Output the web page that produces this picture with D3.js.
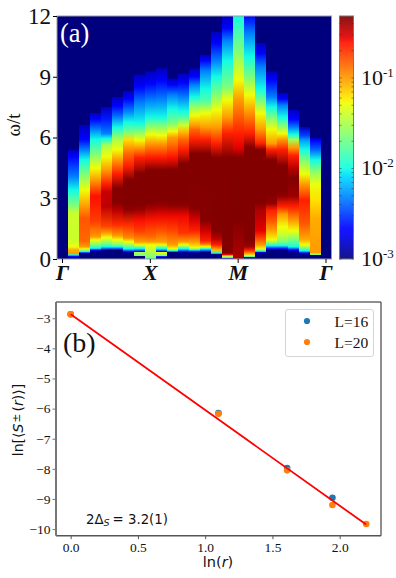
<!DOCTYPE html>
<html>
<head>
<meta charset="utf-8">
<script src="https://cdn.jsdelivr.net/npm/d3@7"></script>
<style>
body { margin: 0; background: #fff; }
text { fill: #111; }
</style>
</head>
<body>
<svg id="fig" width="396" height="578"></svg>
<script>
// panel (a): each momentum column is a list of [omega, log10 S]
const column0 = [[0, -3]];
const column1 = [[.08,-3],[.12,-2.66],[.2,-2],[.28,-1],[.45,-1.05],[.6,-1.3],[.94,-1.4],[2.25,-1.4],[2.67,-1.66],[3.4,-2],[4.07,-2.33],[5.05,-2.66],[5.38,-2.85],[5.4,-3]];
const column2 = [[.27,-3],[.3,-2.66],[.36,-2],[.5,-1.28],[.6,-1],[.9,-.85],[2,-.8],[2.6,-1],[3.4,-1.28],[4.2,-1.66],[4.9,-2],[5.4,-2.33],[5.9,-2.66],[6.6,-2.85],[6.62,-3]];
const column3 = [[.36,-3],[.44,-2.66],[.53,-2],[.7,-1.66],[.94,-1.28],[1.1,-1],[1.9,-.72],[3.1,-.6],[3.9,-1],[4.5,-1.28],[5.2,-1.66],[5.9,-2],[6.4,-2.33],[6.9,-2.66],[7.2,-2.85],[7.22,-3]];
const column4 = [[.42,-3],[.46,-2.66],[.6,-2],[.77,-1.66],[1.05,-1.28],[1.3,-1],[1.6,-.75],[2.6,-.46],[3.3,-.48],[3.7,-.64],[4.4,-1],[5.05,-1.28],[5.6,-1.5],[5.95,-2],[6.2,-2.33],[6.9,-2.6],[7.5,-2.85],[7.52,-3]];
const column5 = [[.42,-3],[.46,-2.66],[.6,-2],[.7,-1.66],[.95,-1.28],[1.15,-1],[1.7,-.68],[2.4,-.45],[2.8,-.33],[3.5,-.33],[4.2,-.64],[4.9,-1],[5.4,-1.28],[5.9,-1.5],[6.5,-2],[7.1,-2.4],[7.55,-2.66],[8,-2.85],[8.02,-3]];
const column6 = [[.3,-3],[.36,-2.66],[.5,-2],[.65,-1.66],[.85,-1.28],[1.05,-.95],[1.7,-.68],[2.4,-.36],[2.7,-.32],[3.9,-.32],[4.6,-.64],[5.2,-.85],[5.9,-1.2],[6.25,-1.66],[6.75,-2],[7.3,-2.33],[7.9,-2.66],[8.3,-2.85],[8.32,-3]];
const column7 = [[.15,-3],[.17,-1.66],[.33,-1.5],[.37,-2.66],[.52,-2],[.7,-1.28],[.85,-1],[1.4,-.72],[1.9,-.6],[2.4,-.38],[2.7,-.32],[4.2,-.32],[5,-.64],[5.5,-1],[5.88,-1.28],[6.3,-1.66],[6.7,-2],[7.7,-2.33],[8.5,-2.66],[9.1,-2.85],[9.12,-3]];
const column8 = [[0,-2],[.05,-1.66],[.5,-1.4],[.7,-1.28],[.85,-1],[1.1,-.85],[1.9,-.62],[2.5,-.4],[2.8,-.32],[4.4,-.32],[5,-.62],[5.7,-1],[6.15,-1.28],[6.6,-1.66],[7,-2],[7.85,-2.33],[8.65,-2.66],[9.25,-2.85],[9.27,-3]];
const column9 = [[.1,-3],[.12,-2.6],[.17,-1.66],[.33,-1.28],[.37,-2.66],[.5,-2],[.7,-1.28],[.85,-1],[1.5,-.75],[2.1,-.58],[2.6,-.38],[2.9,-.32],[4.4,-.32],[5,-.62],[5.7,-1],[6.1,-1.28],[6.6,-1.66],[7,-2],[7.9,-2.33],[8.8,-2.66],[9.4,-2.85],[9.42,-3]];
const column10 = [[.33,-3],[.4,-2],[.5,-1.28],[.7,-1],[1.5,-.72],[2.1,-.58],[2.6,-.36],[2.9,-.32],[4.4,-.32],[5,-.6],[5.6,-.85],[6,-1],[6.3,-1.28],[6.7,-1.66],[7.4,-2],[8.1,-2.33],[8.6,-2.66],[8.9,-2.85],[8.92,-3]];
const column11 = [[.3,-3],[.36,-2.66],[.5,-2],[.7,-1.28],[.85,-1],[1.3,-.7],[2.1,-.58],[2.6,-.36],[2.9,-.32],[4.7,-.32],[5.4,-.64],[5.9,-.85],[6.3,-1.1],[6.6,-1.4],[7,-1.8],[7.3,-2],[8,-2.33],[8.7,-2.66],[9.15,-2.85],[9.17,-3]];
const column12 = [[.3,-3],[.36,-2.66],[.45,-2],[.55,-1.28],[.85,-1],[1.4,-.64],[2,-.5],[2.5,-.33],[5.2,-.32],[5.9,-.64],[6.4,-.85],[6.6,-1],[7.1,-1.28],[7.6,-1.66],[8,-2],[8.6,-2.33],[9,-2.66],[9.4,-2.85],[9.42,-3]];
const column13 = [[.33,-3],[.36,-2.66],[.5,-2],[.6,-1.28],[.75,-.85],[.9,-.64],[1.4,-.5],[1.9,-.33],[5.2,-.32],[5.9,-.64],[6.5,-1],[7.2,-1.28],[7.8,-1.8],[8.4,-2],[9.3,-2.33],[9.8,-2.66],[10.07,-2.85],[10.09,-3]];
const column14 = [[.22,-3],[.25,-2.66],[.28,-2],[.44,-1.1],[.7,-.64],[1,-.45],[1.4,-.32],[5,-.32],[5.7,-.64],[6.5,-1],[7.35,-1.28],[8.15,-1.66],[9,-2],[9.8,-2.33],[10.65,-2.66],[11.2,-2.85],[11.22,-3]];
const column15 = [[0,-3],[.03,-2.66],[.06,-2],[.1,-1.66],[.15,-1.28],[.2,-.6],[.3,-.32],[5,-.32],[6.2,-.64],[7,-1],[7.85,-1.28],[8.5,-1.66],[9.8,-2],[10.8,-2.33],[11.4,-2.66],[12,-2.85]];
const column16 = [[0,-.4],[.5,-.4],[2,-.3],[5,-.32],[5.5,-.55],[6.2,-.64],[7.85,-1],[8.85,-1.28],[10.3,-1.66],[12,-2]];
const column17 = [[.04,-3],[.08,-2.66],[.1,-2],[.16,-1.28],[.28,-1],[.4,-.7],[.6,-.4],[.9,-.32],[5.5,-.32],[6.2,-.64],[7.3,-1],[8.1,-1.28],[9,-1.66],[10,-2],[11.15,-2.33],[12,-2.66]];
const column18 = [[.3,-3],[.33,-2.66],[.38,-2],[.5,-1.28],[.7,-1],[1.1,-.7],[1.4,-.55],[2.4,-.42],[2.8,-.32],[5.4,-.32],[5.7,-.64],[6.4,-1],[7.2,-1.28],[7.8,-1.66],[8.4,-2],[9.5,-2.33],[10.15,-2.66],[10.66,-2.85],[10.68,-3]];
const column19 = [[.42,-3],[.5,-2.66],[.66,-2],[.94,-1.28],[1.43,-1],[1.9,-.8],[2.4,-.64],[2.75,-.36],[3.2,-.32],[4.9,-.32],[5.4,-.64],[5.7,-1],[6.4,-1.28],[7,-1.66],[7.5,-2],[8,-2.33],[8.85,-2.66],[9.25,-2.85],[9.27,-3]];
const column20 = [[.42,-3],[.5,-2.66],[.66,-2],[.85,-1.66],[1.2,-1.4],[1.6,-1.28],[2.2,-1],[2.6,-.64],[3.1,-.36],[3.4,-.32],[4.6,-.32],[5.4,-.64],[5.9,-1],[6.2,-1.28],[6.6,-1.66],[7,-2],[7.6,-2.33],[7.9,-2.66],[8.2,-2.85],[8.22,-3]];
const column21 = [[.3,-3],[.45,-2.66],[.6,-2],[.95,-1.66],[1.4,-1.28],[1.9,-1],[2.6,-.64],[3.1,-.38],[4,-.32],[4.5,-.45],[5.1,-.64],[5.5,-1],[5.9,-1.55],[6.15,-2],[6.5,-2.33],[6.9,-2.66],[7.35,-2.85],[7.37,-3]];
const column22 = [[.2,-3],[.3,-2.66],[.4,-2],[.7,-1.28],[.95,-1.05],[1.76,-.8],[2.9,-.64],[3.7,-1],[4.2,-1.28],[4.9,-1.66],[5.4,-2],[5.88,-2.25],[6.1,-2.5],[6.5,-2.85],[6.52,-3]];
const column23 = [[.18,-3],[.2,-2],[.24,-1.28],[.3,-1],[2,-1.05],[2.9,-1.2],[3.7,-1.3],[4.3,-1.6],[4.9,-2],[5.4,-2.4],[5.85,-2.66],[5.95,-2.85],[5.97,-3]];
const column24 = [[0, -3]];
const columns = [column0,column1,column2,column3,column4,column5,column6,column7,column8,column9,column10,column11,column12,column13,column14,column15,column16,column17,column18,column19,column20,column21,column22,column23,column24];

const omegaTicks = [0, 3, 6, 9, 12];
const pathIndex = [0, 8, 16, 24];
const pathLabels = ["Γ", "X", "M", "Γ"];
const cbarDecades = [-1, -2, -3];
const logMin = -3, logMax = -0.315;

// panel (b)
const lnR16 = [0, 1.0986, 1.609, 1.946];
const lnS16 = [-2.87, -6.15, -7.97, -8.96];
const lnR20 = [0, 1.0986, 1.609, 1.946, 2.197];
const lnS20 = [-2.87, -6.17, -8.05, -9.2, -9.83];
const fitX = [0, 2.197];
const fitY = [-2.87, -9.85];
const xTicksB = [0, 0.5, 1, 1.5, 2];
const yTicksB = [-3, -4, -5, -6, -7, -8, -9, -10];
const legendLabels = ["L=16", "L=20"];
const legendColors = ["#1f77b4", "#ff7f0e"];

const serif = "'Liberation Serif', serif";
const sans = "'DejaVu Sans', sans-serif";
const svg = d3.select("#fig");
const defs = svg.append("defs");

// jet colormap
const jet = d3.scaleLinear()
	.domain([0, .11, .125, .34, .35, .375, .64, .65, .66, .89, .91, 1])
	.range(["#00007f", "#0000ff", "#0000ff", "#00dbff", "#00e5f7", "#14ffe3", "#f0ff08", "#f7f500", "#ffea00", "#ff1400", "#e80000", "#800000"]);
const logToT = d3.scaleLinear().domain([logMin, logMax]).range([0, 1]).clamp(true);
const color = v => jet(logToT(v));

// ---- panel a ----
const xA = d3.scaleBand().domain(d3.range(columns.length)).range([57, 331.5]);
const yA = d3.scaleLinear().domain([0, 12]).range([259, 16]);

columns.forEach(function(col, i){
	let g = defs.append("linearGradient")
		.attr("id", "col" + i)
		.attr("gradientUnits", "userSpaceOnUse")
		.attr("x1", 0).attr("x2", 0)
		.attr("y1", yA(0)).attr("y2", yA(12));
	g.selectAll("stop").data(col).enter().append("stop")
		.attr("offset", d => d[0] / 12)
		.attr("stop-color", d => color(d[1]));
});

// navy backing so the seams between columns do not show white
svg.append("rect")
	.attr("x", 57).attr("y", yA(12))
	.attr("width", 274.5).attr("height", yA(0) - yA(12))
	.attr("fill", jet(0));

svg.append("g").attr("shape-rendering", "crispEdges")
	.selectAll("rect").data(columns).enter().append("rect")
	.attr("x", (d, i) => xA(i))
	.attr("y", yA(12))
	.attr("width", xA.bandwidth() + 0.5)
	.attr("height", yA(0) - yA(12))
	.attr("fill", (d, i) => "url(#col" + i + ")");

svg.append("rect")
	.attr("x", 57).attr("y", yA(12))
	.attr("width", 274.5).attr("height", yA(0) - yA(12))
	.attr("fill", "none").attr("stroke", "#9a9aa6").attr("stroke-width", 1);

let axisLeftA = svg.append("g")
	.attr("transform", "translate(57,0)")
	.call(d3.axisLeft(yA).tickValues(omegaTicks).tickSize(4).tickPadding(2));
axisLeftA.select(".domain").remove();
axisLeftA.selectAll("text").attr("font-family", serif).attr("font-size", 23);

let axisBottomA = svg.append("g")
	.attr("transform", "translate(0,259)")
	.call(d3.axisBottom(xA).tickValues(pathIndex).tickSize(4).tickPadding(1).tickFormat((d, i) => pathLabels[i]));
axisBottomA.select(".domain").remove();
axisBottomA.selectAll("text")
	.attr("font-family", serif).attr("font-size", 22)
	.attr("font-weight", "bold").attr("font-style", "italic");

svg.append("text")
	.attr("transform", "translate(20,125) rotate(-90)")
	.attr("text-anchor", "middle")
	.attr("font-family", serif).attr("font-size", 19)
	.text("ω/t");

svg.append("text")
	.attr("x", 60).attr("y", 42)
	.attr("font-family", serif).attr("font-size", 26.5)
	.style("fill", "#fff")
	.text("(a)");

// colorbar
const yBar = d3.scaleLog().domain([1e-3, Math.pow(10, logMax)]).range([259, 16]);
let barGrad = defs.append("linearGradient")
	.attr("id", "barGrad")
	.attr("x1", 0).attr("x2", 0).attr("y1", 1).attr("y2", 0);
barGrad.selectAll("stop").data(jet.domain()).enter().append("stop")
	.attr("offset", d => d)
	.attr("stop-color", d => jet(d));

svg.append("rect")
	.attr("x", 339.5).attr("y", 16)
	.attr("width", 14).attr("height", 243)
	.attr("fill", "url(#barGrad)")
	.attr("fill-opacity", 0.92)
	.attr("stroke", "#777").attr("stroke-width", 1);

let minorTicks = [];
[-3, -2, -1].forEach(function(k){
	d3.range(1, 10).forEach(function(m){
		let v = m * Math.pow(10, k);
		if (v <= yBar.domain()[1]) minorTicks.push(v);
	});
});
[[339.5, 2], [353.5, -2]].forEach(function(side){
	svg.append("g").selectAll("line").data(minorTicks).enter().append("line")
		.attr("x1", side[0]).attr("x2", side[0] + side[1])
		.attr("y1", d => yBar(d)).attr("y2", d => yBar(d))
		.attr("stroke", "#333").attr("stroke-opacity", 0.7).attr("stroke-width", 0.8);
});

let barLabels = svg.append("g").selectAll("text").data(cbarDecades).enter().append("text")
	.attr("x", 361)
	.attr("y", d => yBar(Math.pow(10, d)) + 7)
	.attr("font-family", serif).attr("font-size", 22);
barLabels.append("tspan").text("10");
barLabels.append("tspan")
	.attr("font-size", 13).attr("dy", -8)
	.text(d => d);

// ---- panel b ----
const xB = d3.scaleLinear().domain([-0.109, 2.307]).range([56, 381]);
const yB = d3.scaleLinear().domain([-2.46, -10.22]).range([302, 535.7]);

let axisBottomB = svg.append("g")
	.attr("transform", "translate(0,535.7)")
	.call(d3.axisBottom(xB).tickValues(xTicksB).tickFormat(d3.format(".1f")).tickSize(3.5).tickPadding(3));
axisBottomB.select(".domain").remove();
axisBottomB.selectAll("text").attr("font-family", serif).attr("font-size", 13.5);
axisBottomB.selectAll("line").attr("stroke", "#555");

let axisLeftB = svg.append("g")
	.attr("transform", "translate(56,0)")
	.call(d3.axisLeft(yB).tickValues(yTicksB).tickSize(3.5).tickPadding(2));
axisLeftB.select(".domain").remove();
axisLeftB.selectAll("text").attr("font-family", serif).attr("font-size", 13.5);
axisLeftB.selectAll("line").attr("stroke", "#777");

// spines
svg.append("line").attr("x1", 56).attr("x2", 381).attr("y1", 302).attr("y2", 302).attr("stroke", "#222").attr("stroke-width", 1);
svg.append("line").attr("x1", 381).attr("x2", 381).attr("y1", 302).attr("y2", 535.7).attr("stroke", "#444").attr("stroke-width", 1.2);
svg.append("line").attr("x1", 56).attr("x2", 381).attr("y1", 535.7).attr("y2", 535.7).attr("stroke", "#555").attr("stroke-width", 1.4);
svg.append("line").attr("x1", 56).attr("x2", 56).attr("y1", 302).attr("y2", 535.7).attr("stroke", "#777").attr("stroke-width", 2);

svg.append("g").selectAll("circle").data(d3.zip(lnR16, lnS16)).enter().append("circle")
	.attr("cx", d => xB(d[0])).attr("cy", d => yB(d[1])).attr("r", 3.3)
	.attr("fill", legendColors[0]);
svg.append("g").selectAll("circle").data(d3.zip(lnR20, lnS20)).enter().append("circle")
	.attr("cx", d => xB(d[0])).attr("cy", d => yB(d[1])).attr("r", 3.3)
	.attr("fill", legendColors[1]);

svg.append("path")
	.attr("d", d3.line().x(d => xB(d[0])).y(d => yB(d[1]))(d3.zip(fitX, fitY)))
	.attr("fill", "none").attr("stroke", "#f00").attr("stroke-width", 1.8);

// legend
svg.append("rect")
	.attr("x", 285.5).attr("y", 309.5)
	.attr("width", 88).attr("height", 47).attr("rx", 2.5)
	.attr("fill", "#fff").attr("stroke", "#d5d5d5");
legendLabels.forEach(function(label, i){
	svg.append("circle").attr("cx", 307).attr("cy", 321 + i * 21).attr("r", 3.1).attr("fill", legendColors[i]);
	svg.append("text").attr("x", 334.5).attr("y", 326.5 + i * 21)
		.attr("font-family", serif).attr("font-size", 15.5)
		.text(label);
});

svg.append("text")
	.attr("x", 63).attr("y", 352)
	.attr("font-family", serif).attr("font-size", 28)
	.text("(b)");

// 2 delta annotation
let note = svg.append("text")
	.attr("x", 86).attr("y", 524)
	.attr("font-family", sans).attr("font-size", 13.3);
note.append("tspan").text("2Δ");
note.append("tspan").attr("font-size", 9.5).attr("font-style", "italic").attr("dy", 2).text("S");
note.append("tspan").attr("dy", -2).attr("dx", 3).text("= 3.2(1)");

let yLabel = svg.append("text")
	.attr("transform", "translate(23,420) rotate(-90)")
	.attr("text-anchor", "middle")
	.attr("font-family", sans).attr("font-size", 14);
yLabel.append("tspan").text("ln[⟨");
yLabel.append("tspan").attr("font-style", "italic").text("S");
yLabel.append("tspan").attr("font-size", 11).attr("dy", -3).attr("dx", 1).text("±");
yLabel.append("tspan").attr("dy", 3).attr("dx", 2).text("(");
yLabel.append("tspan").attr("font-style", "italic").text("r");
yLabel.append("tspan").text(")⟩]");

let xLabel = svg.append("text")
	.attr("x", 218).attr("y", 567)
	.attr("text-anchor", "middle")
	.attr("font-family", sans).attr("font-size", 14.5);
xLabel.append("tspan").text("ln(");
xLabel.append("tspan").attr("font-style", "italic").text("r");
xLabel.append("tspan").text(")");
</script>
</body>
</html>
